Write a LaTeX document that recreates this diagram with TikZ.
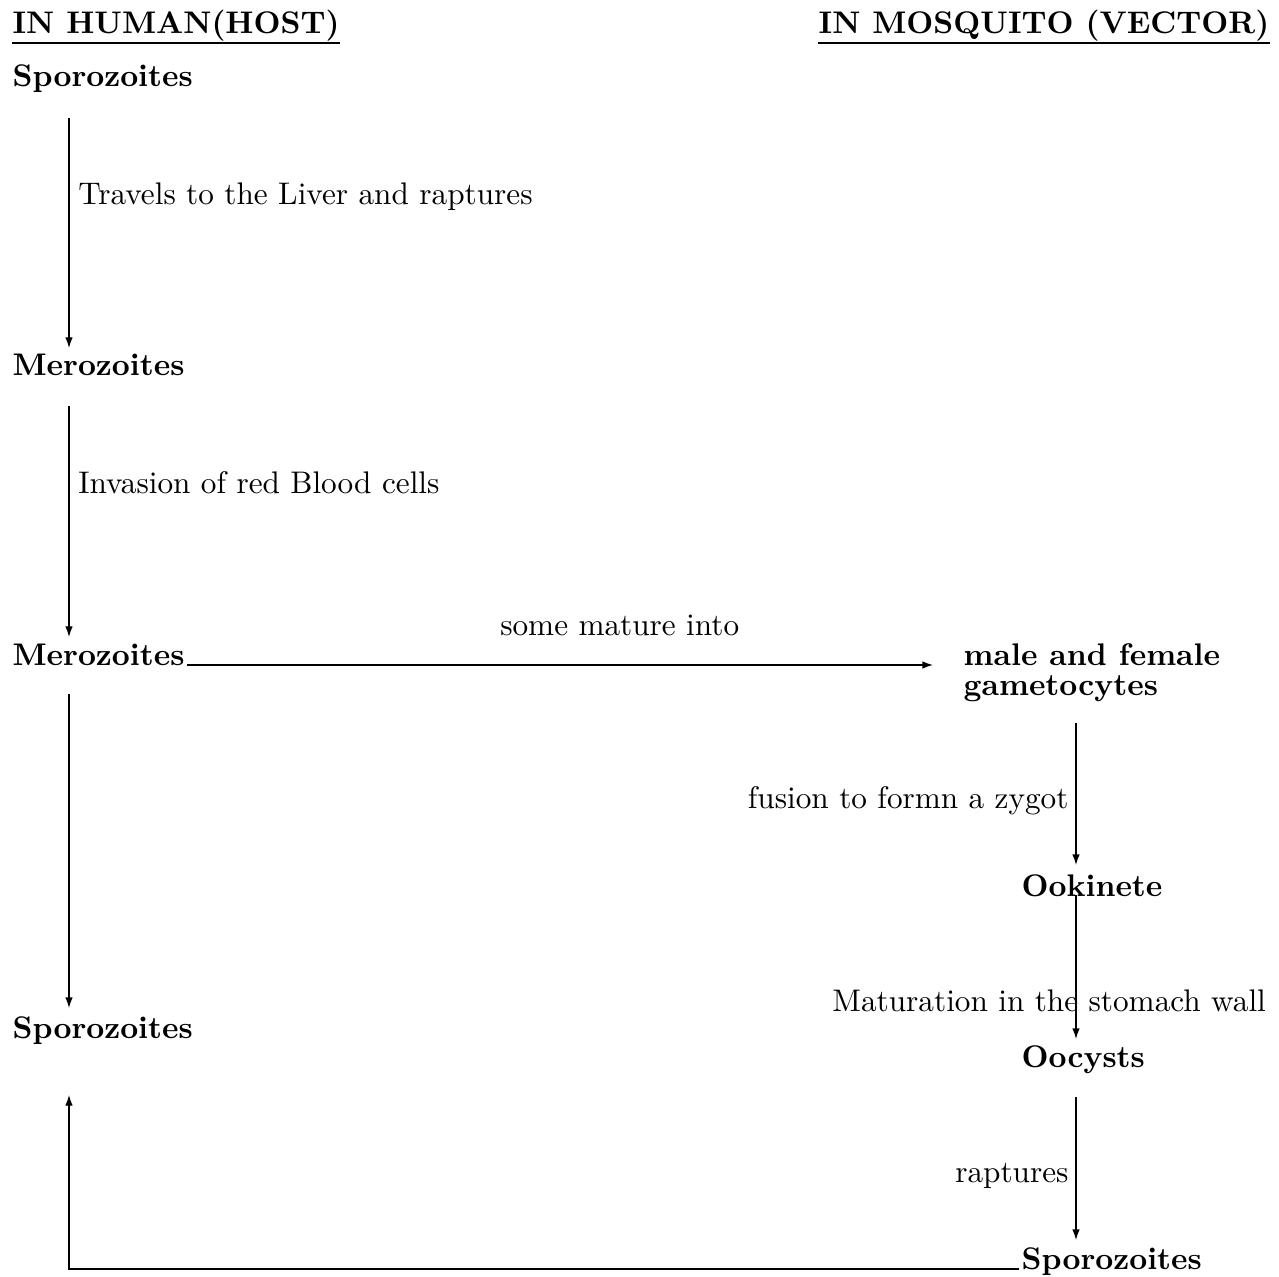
\documentclass[tikz,border=0pt]{standalone}
\usetikzlibrary{arrows.meta,calc}
\begin{document}
\begin{tikzpicture}[x=0.32pt,y=-0.32pt,
  stage/.style={inner sep=0pt, anchor=base west, font=\bfseries},
  head/.style={inner sep=0pt, anchor=base west, font=\bfseries},
  lbl/.style={inner sep=0pt},
  arr/.style={-{Latex[length=3.4pt,width=2.4pt]}, line width=0.4pt}]
\useasboundingbox (0,0) rectangle (1279,1277);
% headings
\node[head] (hh) at (12,34) {IN HUMAN(HOST)};
\node[head] (hv) at (818,34) {IN MOSQUITO (VECTOR)};
\draw[line width=0.4pt] ($(hh.base west)+(0,9)$) -- ($(hh.base east)+(0,9)$);
\draw[line width=0.4pt] ($(hv.base west)+(0,9)$) -- ($(hv.base east)+(0,9)$);
% column coordinates
\coordinate (cl) at (69,0);
\coordinate (cr) at (1076,0);
% stages
\node[stage] (s1) at (12,87) {Sporozoites};
\node[stage] (m1) at (12,376) {Merozoites};
\node[stage] (m2) at (12,665) {Merozoites};
\node[stage] (s2) at (12,1038) {Sporozoites};
\node[stage, align=left, anchor=north west] (g) at (963,643) {male and female\\[-2.4pt]gametocytes};
\node[stage] (ok) at (1021,896) {Ookinete};
\node[stage] (oc) at (1021,1067) {Oocysts};
\node[stage] (s3) at (1021,1269) {Sporozoites};
% human side
\draw[arr] ($(s1.base -| cl)+(0,31)$) -- ($(m1.base -| cl)+(0,-28)$)
  node[lbl, pos=0.378, anchor=base west, xshift=2.8pt] {Travels to the Liver and raptures};
\draw[arr] ($(m1.base -| cl)+(0,30)$) -- ($(m2.base -| cl)+(0,-28)$)
  node[lbl, pos=0.377, anchor=base west, xshift=2.8pt] {Invasion of red Blood cells};
\draw[arr] ($(m2.base -| cl)+(0,29)$) -- ($(s2.base -| cl)+(0,-30)$);
% to gametocytes
\draw[arr] ($(m2.base east)+(2,0)$) -- ($(m2.base east -| g.west)+(-30,0)$)
  node[lbl, pos=0.58, anchor=base, yshift=9.3pt] {some mature into};
% mosquito side
\draw[arr] ($(g.south -| cr)+(0,21)$) -- ($(ok.base -| cr)+(0,-31)$)
  node[lbl, pos=0.60, anchor=base east, xshift=-2.2pt] {fusion to formn a zygot};
\draw[arr] ($(ok.base -| cr)+(0,-1)$) -- ($(oc.base -| cr)+(0,-28)$)
  node[lbl, pos=0.81, anchor=base, xshift=-8.6pt] {Maturation in the stomach wall};
\draw[arr] ($(oc.base -| cr)+(0,30)$) -- ($(s3.base -| cr)+(0,-29)$)
  node[lbl, pos=0.60, anchor=base east, xshift=-2.2pt] {raptures};
% return
\draw[arr] ($(s3.base west)+(-2,0)$) -| ($(s2.base -| cl)+(0,57)$);
\end{tikzpicture}
\end{document}
